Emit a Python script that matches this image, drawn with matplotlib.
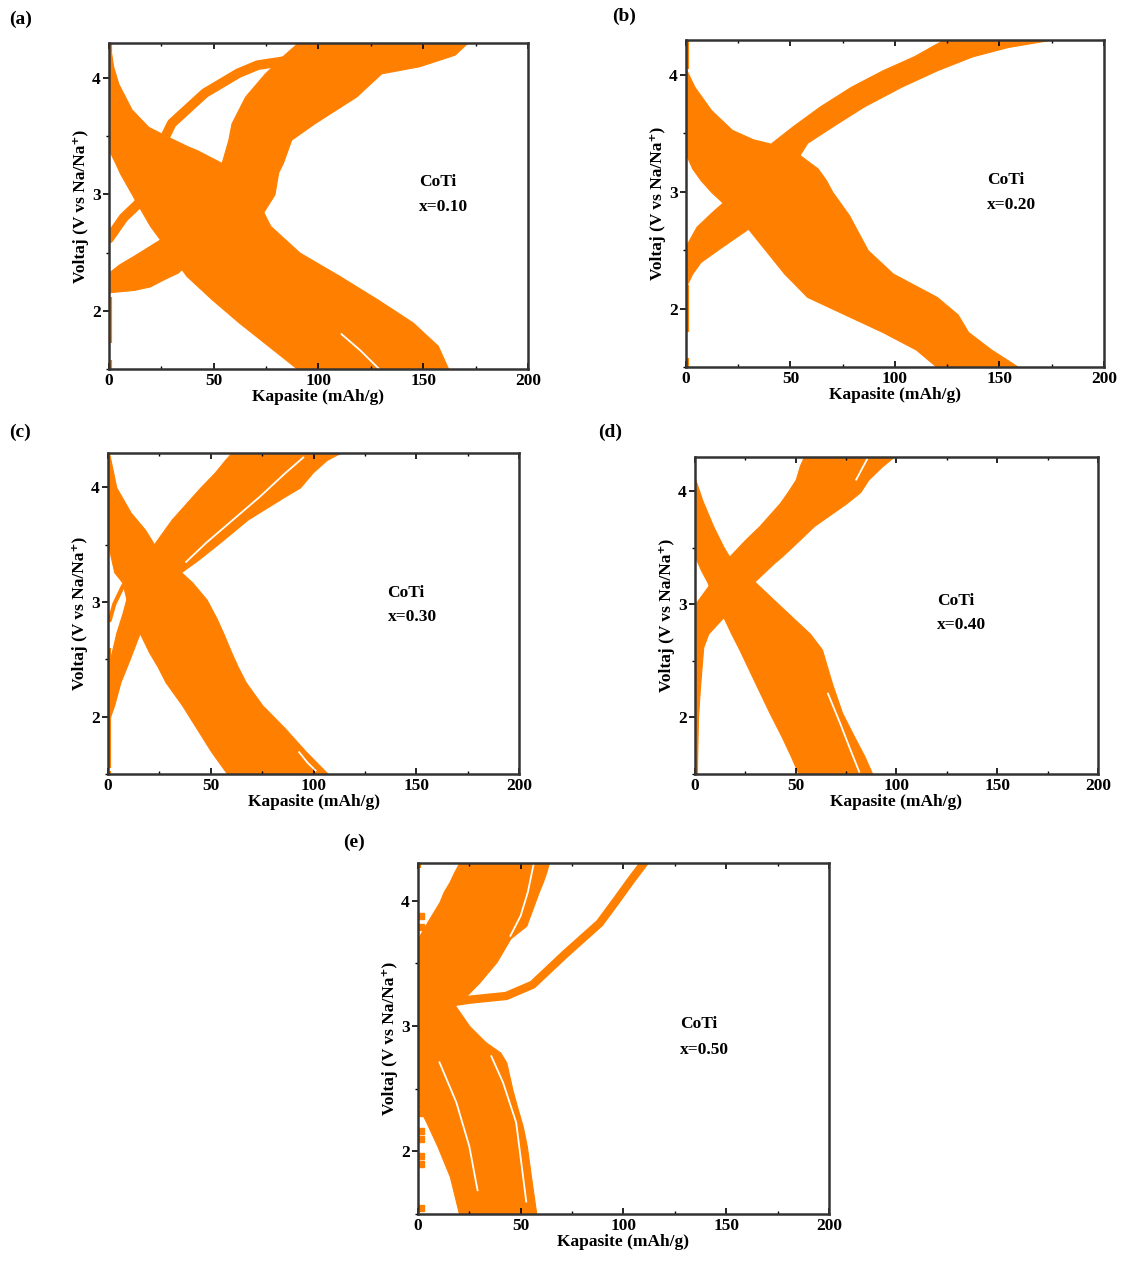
import matplotlib
matplotlib.use("Agg")
import matplotlib.pyplot as plt  # noqa: E402
from matplotlib.ticker import MultipleLocator  # noqa: E402

ORANGE = "#ff8000"
plt.rcParams["font.family"] = ["Liberation Serif", "DejaVu Serif"]
plt.rcParams["font.weight"] = "bold"

# ---------------------------------------------------------------- data (a) x=0.10
A_DIS_V = [4.28, 4.1, 3.95, 3.73, 3.58, 3.5, 3.41, 3.38, 3.27, 3.18, 2.98, 2.73, 2.5,
           2.3, 2.1, 1.9, 1.7, 1.5]
A_DIS_LO = [0, 0, 0, 0, 0, 0, 0, 0, 3, 5.3, 11.6, 19.6, 29, 37, 49, 62, 76, 90]
A_DIS_HI = [0.5, 2, 4.5, 10.8, 18.8, 27.5, 37.9, 42, 53.8, 61, 70, 77, 91, 110, 128, 145, 157, 162]
A_CHG_V = [2.16, 2.18, 2.21, 2.27, 2.33, 2.4, 2.47, 2.62, 2.8, 3.0, 3.19, 3.27, 3.47,
           3.61, 3.84, 4.04, 4.1, 4.2, 4.3]
A_CHG_LO = [0, 0, 0, 0, 0, 5, 11.6, 25, 33, 42, 50, 53.8, 57, 58.5, 65, 74.5, 78, 83.7, 90]
A_CHG_HI = [0, 12, 19.6, 26, 33, 37, 41, 48, 72, 79, 80.8, 83, 87, 98, 118, 130, 148, 165, 171]
A_FIRST_CAP = [0, 7, 14, 22, 27, 30, 45.8, 61.7, 71, 82, 88]
A_FIRST_V = [2.62, 2.8, 2.92, 3.25, 3.5, 3.61, 3.87, 4.04, 4.11, 4.14, 4.16]
A_GAP_CAP = [[111, 120, 129]]
A_GAP_V = [[1.8, 1.66, 1.5]]
A_STRIP = [(4.22, 4.3), (1.72, 2.12), (1.5, 1.58)]

# ---------------------------------------------------------------- data (b) x=0.20
B_DIS_V = [4.05, 3.9, 3.7, 3.53, 3.45, 3.41, 3.32, 3.2, 3.1, 3.0, 2.9, 2.8, 2.7,
           2.5, 2.3, 2.1, 1.95, 1.8, 1.65, 1.5]
B_DIS_LO = [0, 0, 0, 0, 0, 0, 0, 3, 7, 12, 18, 24, 29, 38, 47, 58, 76, 94, 110, 120]
B_DIS_HI = [0, 4, 12, 22, 32, 41, 54, 63, 67, 70, 74, 78, 81, 87, 99, 120, 130, 135, 146, 159]
B_CHG_V = [2.19, 2.3, 2.4, 2.54, 2.7, 2.82, 2.91, 3.1, 3.32, 3.42, 3.56, 3.73, 3.9,
           4.04, 4.16, 4.24, 4.3]
B_CHG_LO = [0, 0, 0, 0, 5, 12, 17.7, 28, 38, 41, 51, 64, 79, 94, 109, 117, 123]
B_CHG_HI = [0, 3, 7, 18, 31, 38, 43, 50, 54.5, 58, 70, 85, 103, 120, 137, 154, 174]
B_STRIP = [(4.05, 4.3), (1.8, 2.2), (1.5, 1.58)]

# ---------------------------------------------------------------- data (c) x=0.30
C_DIS_V = [4.3, 4.0, 3.78, 3.63, 3.5, 3.26, 3.17, 3.02, 2.85, 2.73, 2.56, 2.44, 2.3,
           2.1, 1.9, 1.7, 1.5]
C_DIS_LO = [0, 0, 0, 0, 0, 3, 7, 9, 12, 15.4, 20, 24, 28, 36, 43, 50, 58]
C_DIS_HI = [0.5, 4, 11, 18, 22.5, 35.5, 41, 48, 53, 56, 60, 63, 67, 75, 86, 96, 107]
C_CHG_V = [1.95, 2.1, 2.3, 2.5, 2.73, 2.9, 3.1, 3.26, 3.37, 3.52, 3.72, 3.92, 4.0,
           4.13, 4.24, 4.3]
C_CHG_LO = [0, 0, 0, 1, 4, 7, 10, 14, 18, 23, 31, 41, 45, 52, 57, 60]
C_CHG_HI = [0, 3, 6, 10.5, 15.4, 22, 30, 35.5, 44, 54.5, 68, 86, 93.5, 99.6, 106.5, 113]
C_FIRST_CAP = [0.8, 3, 7.3, 9]
C_FIRST_V = [2.84, 2.98, 3.14, 3.18]
C_GAP_CAP = [[38, 48, 61, 74, 86, 95], [93, 97, 101]]
C_GAP_V = [[3.35, 3.52, 3.72, 3.92, 4.12, 4.26], [1.69, 1.6, 1.53]]
C_STRIP = [(1.55, 2.6), (1.5, 1.53)]

# ---------------------------------------------------------------- data (d) x=0.40
D_DIS_V = [4.11, 3.92, 3.69, 3.51, 3.42, 3.3, 3.2, 3.04, 2.89, 2.74, 2.6, 2.3, 2.04,
           1.83, 1.66, 1.5]
D_DIS_LO = [0, 0, 0, 0, 0, 3, 6, 10, 14, 18, 22, 30, 37, 43, 47.5, 51.4]
D_DIS_HI = [0, 3.6, 9, 14, 17, 24, 29.5, 39, 48, 57, 63, 68, 73, 79, 84, 88]
D_CHG_V = [1.6, 2.0, 2.27, 2.62, 2.74, 2.87, 3.0, 3.16, 3.2, 3.36, 3.42, 3.57, 3.69,
           3.89, 3.99, 4.1, 4.22, 4.3]
D_CHG_LO = [0, 0, 0, 0, 0, 0, 0, 6.6, 8, 14, 17, 25, 32, 42, 46, 50, 52, 54]
D_CHG_HI = [1, 1.5, 2.5, 4.1, 6.6, 13.3, 20, 27, 29.5, 39, 43, 52, 59, 75, 82, 86, 93, 98.5]
D_GAP_CAP = [[80, 83, 86], [66, 72, 77, 81.5]]
D_GAP_V = [[4.1, 4.2, 4.3], [2.21, 1.95, 1.72, 1.52]]
D_STRIP = [(1.5, 2.7)]

# ---------------------------------------------------------------- data (e) x=0.50
E_DIS_V = [3.17, 3.0, 2.87, 2.79, 2.71, 2.49, 2.37, 2.2, 2.04, 1.8, 1.5]
E_DIS_LO = [0, 0, 0, 0, 0, 0, 0, 5, 9.5, 15.5, 20]
E_DIS_HI = [17.8, 25, 33, 40, 43, 46, 48, 51, 53, 55, 57.6]
E_CHG_V = [3.17, 3.24, 3.35, 3.51, 3.7, 3.8, 3.99, 4.07, 4.15, 4.23, 4.3]
E_CHG_LO = [0, 0, 0, 0, 0, 3.5, 10.5, 12.5, 15.4, 17.7, 20]
E_CHG_HI = [17, 23.5, 30, 38.2, 45, 52.7, 57, 58.8, 60.8, 62.5, 63.7]
E_FIRST_CAP = [17, 25, 43, 55.8, 72, 88.4, 96.5, 104, 110]
E_FIRST_V = [3.19, 3.21, 3.24, 3.33, 3.58, 3.82, 4.0, 4.17, 4.3]
E_GAP_CAP = [[45, 50, 53.5, 56.4], [10.5, 18.7, 25, 29], [35.7, 41.4, 47.8, 52.7]]
E_GAP_V = [[3.72, 3.88, 4.07, 4.3], [2.71, 2.39, 2.04, 1.69], [2.76, 2.55, 2.23, 1.6]]
E_DOTS_V = [3.88, 3.79, 2.39, 2.31, 2.16, 2.1, 1.96, 1.9, 1.55]
E_STRIP = [(4.26, 4.3)]

PANELS = [
    ("x=0.10", (0.0971, 0.7101, 0.3734, 0.2561), (0.74, 0.574, 0.497),
     [(A_DIS_V, A_DIS_LO, A_DIS_HI), (A_CHG_V, A_CHG_LO, A_CHG_HI)],
     [(A_FIRST_CAP, A_FIRST_V, 7)], (A_GAP_CAP, A_GAP_V), A_STRIP, []),
    ("x=0.20", (0.6114, 0.7117, 0.3725, 0.2569), (0.72, 0.572, 0.495),
     [(B_DIS_V, B_DIS_LO, B_DIS_HI), (B_CHG_V, B_CHG_LO, B_CHG_HI)],
     [], ([], []), B_STRIP, []),
    ("x=0.30", (0.0963, 0.392, 0.3663, 0.2522), (0.68, 0.564, 0.489),
     [(C_DIS_V, C_DIS_LO, C_DIS_HI), (C_CHG_V, C_CHG_LO, C_CHG_HI)],
     [(C_FIRST_CAP, C_FIRST_V, 3)], (C_GAP_CAP, C_GAP_V), C_STRIP, []),
    ("x=0.40", (0.6194, 0.392, 0.3592, 0.249), (0.60, 0.546, 0.47),
     [(D_DIS_V, D_DIS_LO, D_DIS_HI), (D_CHG_V, D_CHG_LO, D_CHG_HI)],
     [], (D_GAP_CAP, D_GAP_V), D_STRIP, []),
    ("x=0.50", (0.3725, 0.0463, 0.3663, 0.2757), (0.637, 0.541, 0.467),
     [(E_DIS_V, E_DIS_LO, E_DIS_HI), (E_CHG_V, E_CHG_LO, E_CHG_HI)],
     [(E_FIRST_CAP, E_FIRST_V, 6)], (E_GAP_CAP, E_GAP_V), E_STRIP, E_DOTS_V),
]


def draw(fig, xtxt, rect, tpos, bands, firsts, gaps, strips, dots):
    ax = fig.add_axes(rect)
    for v, lo, hi in bands:
        ax.fill_betweenx(v, lo, hi, color=ORANGE, lw=0.8, ec=ORANGE)
    for cap, v, lw in firsts:
        ax.plot(cap, v, color=ORANGE, lw=lw, solid_capstyle="round")
    for cap, v in zip(*gaps):
        ax.plot(cap, v, color="white", lw=1.3)
    for v0, v1 in strips:
        ax.plot([0.6, 0.6], [v0, v1], color=ORANGE, lw=3, solid_capstyle="butt")
    if dots:
        ax.plot([1.5] * len(dots), dots, "s", color=ORANGE, ms=4)
    ax.set_xlim(0, 200)
    ax.set_ylim(1.5, 4.3)
    ax.xaxis.set_major_locator(MultipleLocator(50))
    ax.xaxis.set_minor_locator(MultipleLocator(25))
    ax.yaxis.set_major_locator(MultipleLocator(1))
    ax.yaxis.set_minor_locator(MultipleLocator(0.5))
    ax.tick_params(axis="x", which="both", direction="in", top=True, labelsize=12.5, pad=3)
    ax.tick_params(axis="y", which="both", direction="out", labelsize=12.5, pad=2)
    ax.tick_params(which="major", length=4, width=1.2)
    ax.tick_params(which="minor", length=2.5, width=1)
    for lbl in ax.get_xticklabels() + ax.get_yticklabels():
        lbl.set_fontweight("bold")
    for s in ax.spines.values():
        s.set_linewidth(1.8)
        s.set_color("#333333")
    ax.set_xlabel("Kapasite (mAh/g)", fontsize=12.5, fontweight="bold", labelpad=0)
    ax.set_ylabel("Voltaj (V vs Na/Na⁺)", fontsize=12.5, fontweight="bold", labelpad=2)
    ax.text(tpos[0], tpos[1], "CoTi", transform=ax.transAxes, fontsize=12.5,
            fontweight="bold", va="center", ha="left")
    ax.text(tpos[0], tpos[2], xtxt, transform=ax.transAxes, fontsize=12.5,
            fontweight="bold", va="center", ha="left")
    return ax


fig = plt.figure(figsize=(11.22, 12.73), dpi=100)
for p in PANELS:
    draw(fig, *p)

for lab, x, y in [("(a)", 0.008, 0.985), ("(b)", 0.546, 0.987), ("(c)", 0.008, 0.66),
                  ("(d)", 0.533, 0.66), ("(e)", 0.306, 0.338)]:
    fig.text(x, y, lab, fontsize=14, fontweight="bold", va="center", ha="left")

fig.savefig("out.png", dpi=100)
